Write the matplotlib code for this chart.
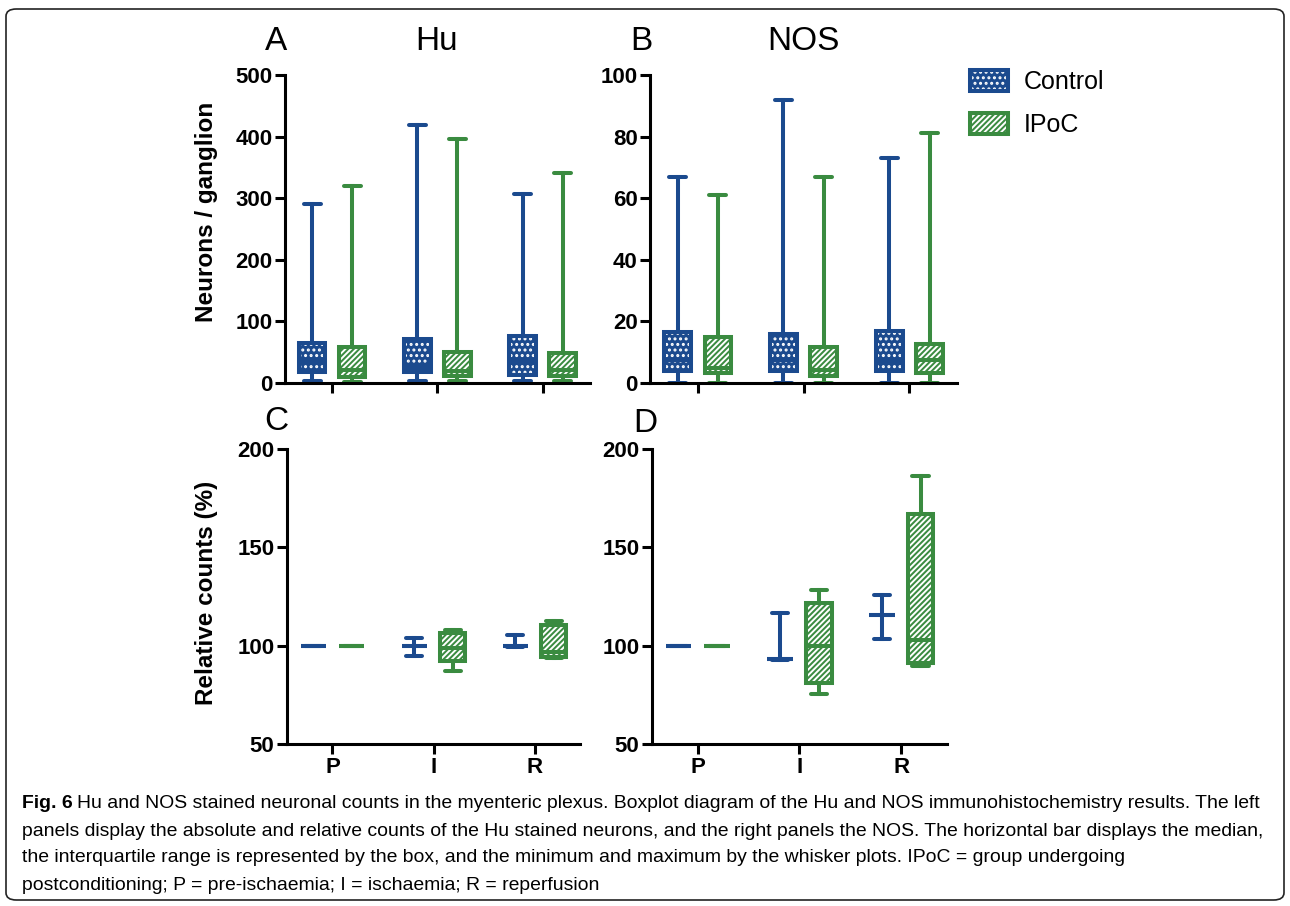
import matplotlib.pyplot as plt
import matplotlib.font_manager as fm
from matplotlib.patches import Patch, FancyBboxPatch

plt.rcParams['font.family'] = ['Liberation Sans', 'DejaVu Sans']
plt.rcParams['hatch.linewidth'] = 1.4

blue = '#1b4a8e'
green = '#3a8b40'

groups = ['P', 'I', 'R']

# min, q1, median, q3, max for each group
hu_ctrl = [[3, 18, 35, 65, 290], [3, 17, 26, 71, 418], [4, 13, 35, 77, 306]]
hu_ipoc = [[2, 10, 21, 58, 320], [3, 11, 20, 50, 396], [3, 12, 21, 49, 341]]
nos_ctrl = [[0, 4, 7.5, 16.5, 67], [0, 4, 7.5, 16, 92], [0, 4, 7, 17, 73]]
nos_ipoc = [[0, 3.2, 5, 14.8, 61], [0, 2.3, 4.2, 11.8, 67], [0, 3.2, 7.3, 12.8, 81]]
rel_hu_ctrl = [[100, 100, 100, 100, 100], [95, 100, 100, 100, 104], [99.5, 100, 100, 100, 105.5]]
rel_hu_ipoc = [[100, 100, 100, 100, 100], [87, 92, 99, 106.5, 108], [93.5, 94, 97, 110.5, 112.7]]
rel_nos_ctrl = [[100, 100, 100, 100, 100], [92.5, 93, 93, 93, 116.5], [103.5, 115.5, 115.5, 115.5, 125.7]]
rel_nos_ipoc = [[100, 100, 100, 100, 100], [75.5, 81, 100, 121.5, 128.5], [89.5, 91, 103, 167, 186.5]]

ctrl_hatch = '...'
ipoc_hatch = '//////'
lw = 2.9


def to_stats(rows):
    return [dict(whislo=r[0], q1=r[1], med=r[2], q3=r[3], whishi=r[4], fliers=[]) for r in rows]


def draw_group(ax, rows, offset, color, hatch):
    pos = [i + offset for i in range(len(rows))]
    st = to_stats(rows)
    # patterned fill
    ax.bxp(st, positions=pos, widths=0.25, patch_artist=True, showfliers=False,
           showcaps=False, manage_ticks=False,
           boxprops=dict(facecolor=color, edgecolor='white', hatch=hatch, linewidth=0),
           whiskerprops=dict(linewidth=0), medianprops=dict(linewidth=0))
    # outline, whiskers, caps, median
    ax.bxp(st, positions=pos, widths=0.25, patch_artist=True, showfliers=False,
           manage_ticks=False, capwidths=0.16,
           boxprops=dict(facecolor='none', edgecolor=color, linewidth=lw),
           whiskerprops=dict(color=color, linewidth=lw),
           capprops=dict(color=color, linewidth=lw, solid_capstyle='round'),
           medianprops=dict(color=color, linewidth=lw, solid_capstyle='butt'))


def style(ax, ylim, yticks, xlabels):
    for s in ['top', 'right']:
        ax.spines[s].set_visible(False)
    for s in ['left', 'bottom']:
        ax.spines[s].set_linewidth(2.2)
    ax.set_xlim(-0.45, 2.45)
    ax.set_ylim(*ylim)
    ax.set_yticks(yticks)
    ax.set_xticks(range(len(groups)))
    if xlabels:
        ax.set_xticklabels(groups)
    else:
        ax.set_xticklabels([])
    ax.tick_params(width=2.2, length=7, labelsize=16, pad=2)
    for lab in ax.get_xticklabels() + ax.get_yticklabels():
        lab.set_fontweight('bold')


fig = plt.figure(figsize=(12.9, 9.06), dpi=100)

axA = fig.add_axes([0.2209, 0.5773, 0.2364, 0.3400])
axB = fig.add_axes([0.5039, 0.5773, 0.2380, 0.3400])
axC = fig.add_axes([0.2225, 0.1788, 0.2271, 0.3256])
axD = fig.add_axes([0.5054, 0.1788, 0.2287, 0.3256])

panels = [
    (axA, hu_ctrl, hu_ipoc, (0, 500), range(0, 501, 100), False),
    (axB, nos_ctrl, nos_ipoc, (0, 100), range(0, 101, 20), False),
    (axC, rel_hu_ctrl, rel_hu_ipoc, (50, 200), [50, 100, 150, 200], True),
    (axD, rel_nos_ctrl, rel_nos_ipoc, (50, 200), [50, 100, 150, 200], True),
]
for ax, c, p, yl, yt, xl in panels:
    draw_group(ax, c, -0.19, blue, ctrl_hatch)
    draw_group(ax, p, 0.19, green, ipoc_hatch)
    style(ax, yl, yt, xl)
    for art in ax.lines + ax.patches:
        art.set_clip_on(False)

fig.text(206 / 1290, 1 - 212 / 906, 'Neurons / ganglion', rotation=90, ha='center', va='center',
         fontsize=17.5, fontweight='bold')
fig.text(206 / 1290, 1 - 593 / 906, 'Relative counts (%)', rotation=90, ha='center', va='center',
         fontsize=17.5, fontweight='bold')

for txt, x, y in [('A', 276, 41), ('Hu', 437, 41), ('B', 641, 41), ('NOS', 803, 41),
                  ('C', 276, 421), ('D', 645, 423)]:
    fig.text(x / 1290, 1 - y / 906, txt, ha='center', va='center', fontsize=24)

handles = [(Patch(facecolor=blue, edgecolor='white', hatch=ctrl_hatch, linewidth=0),
            Patch(facecolor='none', edgecolor=blue, linewidth=lw)),
           (Patch(facecolor=green, edgecolor='white', hatch=ipoc_hatch, linewidth=0),
            Patch(facecolor='none', edgecolor=green, linewidth=lw))]
fig.legend(handles, ['Control', 'IPoC'], loc='upper left', bbox_to_anchor=(970 / 1290, 1 - 70 / 906),
           frameon=False, fontsize=18, handlelength=1.5, handleheight=0.92, handletextpad=0.65,
           labelspacing=0.75, borderpad=0, borderaxespad=0)

# caption
names = {f.name for f in fm.fontManager.ttflist}
cap_font = 'Liberation Sans Narrow' if 'Liberation Sans Narrow' in names else 'Liberation Sans'
cap_lines = [
    'Hu and NOS stained neuronal counts in the myenteric plexus. Boxplot diagram of the Hu and NOS immunohistochemistry results. The left',
    'panels display the absolute and relative counts of the Hu stained neurons, and the right panels the NOS. The horizontal bar displays the median,',
    'the interquartile range is represented by the box, and the minimum and maximum by the whisker plots. IPoC = group undergoing',
    'postconditioning; P = pre-ischaemia; I = ischaemia; R = reperfusion',
]
cap_y = [803, 831, 858, 885]
fs = 13
x0 = 22 / 1290
bold = fig.text(x0, 1 - cap_y[0] / 906, 'Fig. 6', fontsize=fs, fontweight='bold', family=cap_font, va='center')
line_txt = [fig.text(x0, 1 - y / 906, t, fontsize=fs, family=cap_font, va='center') for t, y in zip(cap_lines, cap_y)]

r = fig.canvas.get_renderer()
bw = bold.get_window_extent(r).width
w1 = bw + fs * 0.3 + line_txt[0].get_window_extent(r).width
w2 = line_txt[1].get_window_extent(r).width
scale = 1236 / max(w1, w2)
fs = fs * scale
bold.set_fontsize(fs)
for t in line_txt:
    t.set_fontsize(fs)
bw = bold.get_window_extent(r).width
line_txt[0].set_x(x0 + (bw + fs * 0.3) / 1290)

fig.patches.append(FancyBboxPatch((6 / 1290, 1 - 900 / 906), 1278 / 1290, 891 / 906,
                                  boxstyle='round,pad=0,rounding_size=0.008', transform=fig.transFigure,
                                  facecolor='none', edgecolor='#222222', linewidth=1.2))

fig.savefig('out.png', dpi=100)
